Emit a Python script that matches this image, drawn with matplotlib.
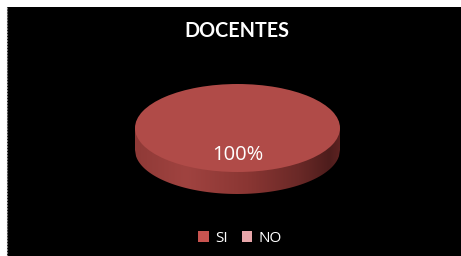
import numpy as np
import matplotlib
matplotlib.use("Agg")
import matplotlib.pyplot as plt
from matplotlib.patches import Polygon, Rectangle
from matplotlib.colors import LinearSegmentedColormap

title = "DOCENTES"
categories = ["SI", "NO"]
values = [100, 0]
top_colors = ["#b04b48", "#e8a6a6"]
legend_colors = ["#c95450", "#e8a6aa"]

W, H = 461, 256
fig = plt.figure(figsize=(W / 100, H / 100), dpi=100)
fig.patch.set_facecolor("white")

# black background panel
bg = fig.add_axes([7 / W, 0, 1 - 7 / W, 1 - 7 / H])
bg.set_facecolor("black")
bg.set_xticks([]); bg.set_yticks([])
for s in bg.spines.values():
    s.set_visible(False)
bg.spines["left"].set_visible(True)
bg.spines["left"].set_color("#888888")
bg.spines["left"].set_linestyle(":")
bg.spines["left"].set_linewidth(0.8)

fig.text(237 / W, 1 - 31 / H, title, color="white", fontsize=14.2,
         fontweight="bold", ha="center", va="center", family="Lato")

# pie axes: top face ellipse spans x 135..340, y 84..172 ; side thickness 22px
thick = 0.5
left_px, right_px, top_px, bot_px = 135, 340, 84, 172 + 22
ax = fig.add_axes([left_px / W, 1 - bot_px / H, (right_px - left_px) / W,
                   (bot_px - top_px) / H])

# side of the disc with horizontal gradient
xs = np.linspace(-1, 1, 200)
lower = -thick - np.sqrt(np.clip(1 - xs ** 2, 0, None))
side_pts = np.column_stack([np.r_[xs, 1, -1], np.r_[lower, 0, 0]])
side = Polygon(side_pts, closed=True, facecolor="none", edgecolor="none")
ax.add_patch(side)
cmap = LinearSegmentedColormap.from_list(
    "side", [(0, "#8f3a37"), (0.25, "#a04340"), (0.55, "#8a3633"),
             (0.8, "#6a2927"), (0.95, "#4e1d1c"), (1, "#5c2221")])
grad = np.linspace(0, 1, 256).reshape(1, -1)
im = ax.imshow(grad, cmap=cmap, extent=(-1, 1, -1 - thick, 0),
               aspect="auto", zorder=1)
im.set_clip_path(side)

def pct(p):
    return f"{p:.0f}%" if p > 0 else ""

wedges, texts, autotexts = ax.pie(
    values, colors=top_colors, startangle=90, autopct=pct, pctdistance=0.62,
    textprops=dict(color="white", fontsize=14.5, family="Open Sans"),
    wedgeprops=dict(linewidth=0, zorder=2))
for w in wedges:
    w.set_zorder(2)
for t in autotexts:
    t.set_zorder(3)
ax.set_aspect("auto")
ax.set_xlim(-1, 1)
ax.set_ylim(-1 - thick, 1)
ax.axis("off")

# legend
handles = [Rectangle((0, 0), 1, 1, facecolor=c, edgecolor="none")
           for c in legend_colors]
leg = fig.legend(handles, categories, loc="center", bbox_to_anchor=(240 / W, 1 - 238 / H),
                 ncol=2, frameon=False, handlelength=0.7, handleheight=0.7,
                 handletextpad=0.4, columnspacing=0.9,
                 prop=dict(family="Open Sans", size=11))
for t in leg.get_texts():
    t.set_color("white")

fig.savefig("out.png", dpi=100, facecolor=fig.get_facecolor())
